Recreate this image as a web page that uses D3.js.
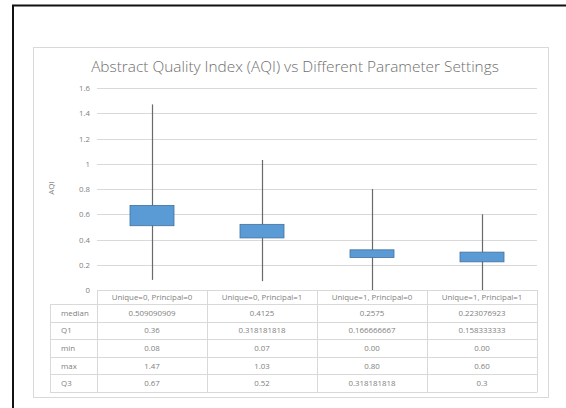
<!DOCTYPE html>
<html>
<head>
<meta charset="utf-8">
<script src="https://cdn.jsdelivr.net/npm/d3@7/dist/d3.min.js"></script>
<style>
  body { margin: 0; background: #fff; }
  svg { display: block; font-family: "Open Sans", "Noto Sans", sans-serif; }
</style>
</head>
<body>
<svg id="svg" width="566" height="408"></svg>
<script>
// chart values
var categories = ["Unique=0, Principal=0", "Unique=0, Principal=1", "Unique=1, Principal=0", "Unique=1, Principal=1"];
var median = [0.509090909, 0.4125, 0.2575, 0.223076923];
var q1 = [0.36, 0.318181818, 0.166666667, 0.158333333];
var minV = [0.08, 0.07, 0.00, 0.00];
var maxV = [1.47, 1.03, 0.80, 0.60];
var q3 = [0.67, 0.52, 0.318181818, 0.3];
var rowNames = ["median", "Q1", "min", "max", "Q3"];
var rowText = [
  ["0.509090909", "0.4125", "0.2575", "0.223076923"],
  ["0.36", "0.318181818", "0.166666667", "0.158333333"],
  ["0.08", "0.07", "0.00", "0.00"],
  ["1.47", "1.03", "0.80", "0.60"],
  ["0.67", "0.52", "0.318181818", "0.3"]
];
var yTicks = [0, 0.2, 0.4, 0.6, 0.8, 1, 1.2, 1.4, 1.6];

var svg = d3.select('#svg');
var textColor = '#7f7f7f';

// outer black frame
svg.append('path')
    .attr('d', 'M13,408 L13,5.5 L566,5.5')
    .attr('fill', 'none')
    .attr('stroke', '#111')
    .attr('stroke-width', 2);

// chart panel
svg.append('rect')
    .attr('x', 33.5).attr('y', 47.5)
    .attr('width', 515).attr('height', 350)
    .attr('fill', '#fff')
    .attr('stroke', '#d9d9d9');

var xScale = d3.scaleBand()
    .domain(categories)
    .range([97, 537]);

var yScale = d3.scaleLinear()
    .domain([0, 1.6])
    .range([290, 88]);

// gridlines
svg.append('g').selectAll('line').data(yTicks).enter()
    .append('line')
    .attr('x1', 97).attr('x2', 537)
    .attr('y1', function(d){ return Math.round(yScale(d)) + 0.5; })
    .attr('y2', function(d){ return Math.round(yScale(d)) + 0.5; })
    .attr('stroke', '#d9d9d9');

var yAxis = svg.append('g')
    .attr('transform', 'translate(90,0)')
    .call(d3.axisLeft(yScale).tickValues(yTicks).tickSize(0).tickPadding(0)
        .tickFormat(function(d){ return String(d); }));
yAxis.select('.domain').remove();
yAxis.selectAll('text')
    .attr('fill', textColor)
    .attr('font-size', '7.8px')
    .attr('font-family', '"Open Sans", sans-serif');

svg.append('text')
    .attr('transform', 'translate(54,188) rotate(-90)')
    .attr('text-anchor', 'middle')
    .attr('fill', textColor)
    .attr('font-size', '8px')
    .text('AQI');

svg.append('text')
    .attr('x', 295).attr('y', 72)
    .attr('text-anchor', 'middle')
    .attr('fill', '#6f6f6f')
    .attr('font-size', '15.4px')
    .attr('font-weight', 300)
    .text('Abstract Quality Index (AQI) vs Different Parameter Settings');

// whiskers
var boxGrp = svg.append('g');
boxGrp.selectAll('line').data(categories).enter()
    .append('line')
    .attr('x1', function(d){ return Math.round(xScale(d) + xScale.bandwidth()/2) + 0.5; })
    .attr('x2', function(d){ return Math.round(xScale(d) + xScale.bandwidth()/2) + 0.5; })
    .attr('y1', function(d, i){ return yScale(minV[i]); })
    .attr('y2', function(d, i){ return yScale(maxV[i]); })
    .attr('stroke', '#6a6a6a')
    .attr('stroke-width', 1.2);

// boxes median..Q3
var bw = xScale.bandwidth() * 0.4;
boxGrp.selectAll('rect').data(categories).enter()
    .append('rect')
    .attr('x', function(d){ return xScale(d) + xScale.bandwidth()/2 - bw/2; })
    .attr('y', function(d, i){ return yScale(q3[i]); })
    .attr('width', bw)
    .attr('height', function(d, i){ return yScale(median[i]) - yScale(q3[i]); })
    .attr('fill', '#5b9bd5')
    .attr('stroke', '#41719c')
    .attr('stroke-width', 0.8);

// data table
var tbl = svg.append('g');
var headTop = 290, headBot = 304, rowH = 17.6;
var lineColor = '#d9d9d9';
var fs = '7.9px';

// header cells
categories.forEach(function(c){
    tbl.append('text')
        .attr('x', xScale(c) + xScale.bandwidth()/2)
        .attr('y', 300)
        .attr('text-anchor', 'middle')
        .attr('fill', textColor)
        .attr('font-size', fs)
        .text(c);
});

// horizontal lines
tbl.append('line').attr('x1', 97).attr('x2', 537).attr('y1', headTop + 0.5).attr('y2', headTop + 0.5).attr('stroke', lineColor);
for (var r = 0; r <= rowNames.length; r++) {
    var yy = Math.round(headBot + r * rowH) + 0.5;
    tbl.append('line').attr('x1', 50).attr('x2', 537).attr('y1', yy).attr('y2', yy).attr('stroke', lineColor);
}
// vertical lines
var tableBot = Math.round(headBot + rowNames.length * rowH) + 0.5;
tbl.append('line').attr('x1', 50.5).attr('x2', 50.5).attr('y1', headBot).attr('y2', tableBot).attr('stroke', lineColor);
categories.concat([null]).forEach(function(c){
    var xx = c === null ? 537 : xScale(c);
    tbl.append('line').attr('x1', Math.round(xx) + 0.5).attr('x2', Math.round(xx) + 0.5)
        .attr('y1', headTop).attr('y2', tableBot).attr('stroke', lineColor);
});

rowNames.forEach(function(name, r){
    var cy = headBot + r * rowH + rowH/2 + 3;
    tbl.append('text')
        .attr('x', 61).attr('y', cy)
        .attr('fill', textColor)
        .attr('font-size', fs)
        .text(name);
    rowText[r].forEach(function(v, i){
        tbl.append('text')
            .attr('x', xScale(categories[i]) + xScale.bandwidth()/2)
            .attr('y', cy)
            .attr('text-anchor', 'middle')
            .attr('fill', textColor)
            .attr('font-size', fs)
            .text(v);
    });
});
</script>
</body>
</html>
